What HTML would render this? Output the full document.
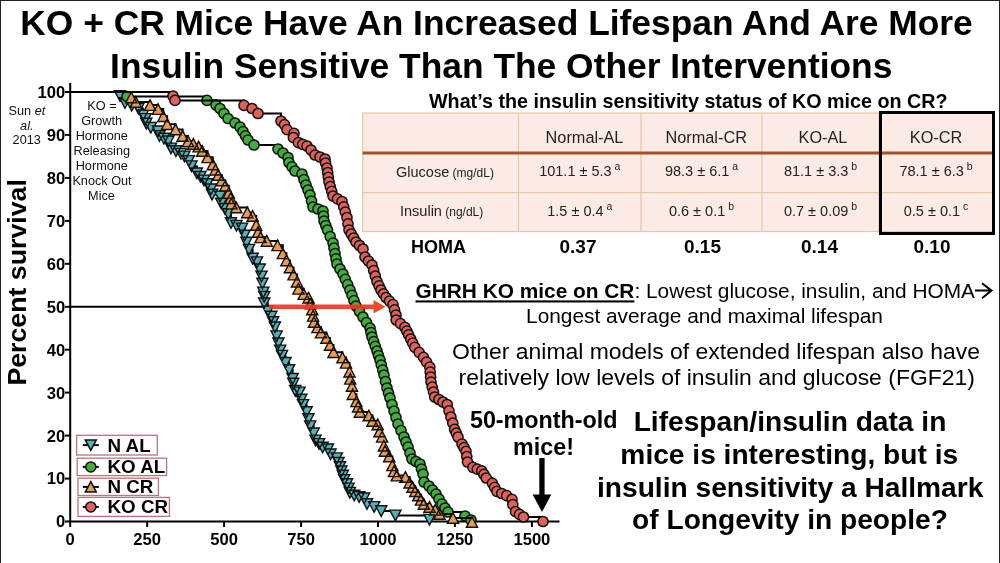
<!DOCTYPE html>
<html><head><meta charset="utf-8"><title>KO + CR Mice</title>
<style>
html,body{margin:0;padding:0;background:#fff;}
body{width:1000px;height:563px;overflow:hidden;position:relative;}
.frame{position:absolute;left:0;top:0;width:998px;height:563px;border:1px solid #222;border-bottom:none;}
svg{position:absolute;left:0;top:0;}
</style></head><body>
<div class="frame"></div>
<svg width="1000" height="563" viewBox="0 0 1000 563">
<rect x="362.7" y="113" width="630.3" height="118.5" fill="#fcebe5" stroke="#e6c7a2" stroke-width="1.2"/>
<path d="M518.5,113V231.5" stroke="#e6c7a2" stroke-width="1.2"/>
<path d="M641,113V231.5" stroke="#e6c7a2" stroke-width="1.2"/>
<path d="M762,113V231.5" stroke="#e6c7a2" stroke-width="1.2"/>
<path d="M879,113V231.5" stroke="#e6c7a2" stroke-width="1.2"/>
<path d="M362.7,192.6H993" stroke="#e6c7a2" stroke-width="1.2"/>
<path d="M362.7,153H993" stroke="#a0522d" stroke-width="3"/>
<rect x="880.5" y="112.5" width="113" height="121" fill="none" stroke="#000" stroke-width="3"/>
<g font-family='"Liberation Sans", Arial, sans-serif' fill="#222"><text x="584.5" y="142.6" text-anchor="middle" font-size="16.3">Normal-AL</text><text x="706.2" y="142.6" text-anchor="middle" font-size="16.3">Normal-CR</text><text x="823.0" y="142.6" text-anchor="middle" font-size="16.3">KO-AL</text><text x="936.0" y="142.6" text-anchor="middle" font-size="16.3">KO-CR</text><text x="579.8" y="176.3" text-anchor="middle" font-size="14.5">101.1 ± 5.3<tspan font-size="10.5" dy="-6"> a</tspan></text><text x="701.5" y="176.3" text-anchor="middle" font-size="14.5">98.3 ± 6.1<tspan font-size="10.5" dy="-6"> a</tspan></text><text x="820.5" y="176.3" text-anchor="middle" font-size="14.5">81.1 ± 3.3<tspan font-size="10.5" dy="-6"> b</tspan></text><text x="936.0" y="176.3" text-anchor="middle" font-size="14.5">78.1 ± 6.3<tspan font-size="10.5" dy="-6"> b</tspan></text><text x="579.8" y="215.7" text-anchor="middle" font-size="14.5">1.5 ± 0.4<tspan font-size="10.5" dy="-6"> a</tspan></text><text x="701.5" y="215.7" text-anchor="middle" font-size="14.5">0.6 ± 0.1<tspan font-size="10.5" dy="-6"> b</tspan></text><text x="820.5" y="215.7" text-anchor="middle" font-size="14.5">0.7 ± 0.09<tspan font-size="10.5" dy="-6"> b</tspan></text><text x="936.0" y="215.7" text-anchor="middle" font-size="14.5">0.5 ± 0.1<tspan font-size="10.5" dy="-6"> c</tspan></text><text x="396" y="176.5" font-size="14.5">Glucose<tspan font-size="12"> (mg/dL)</tspan></text><text x="400" y="215.7" font-size="14.5">Insulin<tspan font-size="12"> (ng/dL)</tspan></text></g>
<g font-family='"Liberation Sans", Arial, sans-serif' font-weight="bold" font-size="18" fill="#000"><text x="438.4" y="253" text-anchor="middle" font-size="18">HOMA</text><text x="578" y="253" text-anchor="middle" font-size="19">0.37</text><text x="702.5" y="253" text-anchor="middle" font-size="19">0.15</text><text x="819.5" y="253" text-anchor="middle" font-size="19">0.14</text><text x="932" y="253" text-anchor="middle" font-size="19">0.10</text></g>
<g stroke="#000" stroke-width="2" fill="none">
<path d="M70.2,83V522.0"/>
<path d="M69.2,521.5H559.5"/>
<path d="M65,521.5H70.2"/>
<path d="M65,478.6H70.2"/>
<path d="M65,435.6H70.2"/>
<path d="M65,392.6H70.2"/>
<path d="M65,349.7H70.2"/>
<path d="M65,306.8H70.2"/>
<path d="M65,263.8H70.2"/>
<path d="M65,220.9H70.2"/>
<path d="M65,177.9H70.2"/>
<path d="M65,134.9H70.2"/>
<path d="M65,92.0H70.2"/>
<path d="M70.2,521.5V527"/>
<path d="M147.2,521.5V527"/>
<path d="M224.1,521.5V527"/>
<path d="M301.1,521.5V527"/>
<path d="M378.0,521.5V527"/>
<path d="M454.9,521.5V527"/>
<path d="M531.9,521.5V527"/>
</g>
<g font-family='"Liberation Sans", Arial, sans-serif' font-weight="bold" font-size="16.6" fill="#000"><text x="65.3" y="527.4" text-anchor="end">0</text><text x="65.3" y="484.4" text-anchor="end">10</text><text x="65.3" y="441.5" text-anchor="end">20</text><text x="65.3" y="398.5" text-anchor="end">30</text><text x="65.3" y="355.6" text-anchor="end">40</text><text x="65.3" y="312.6" text-anchor="end">50</text><text x="65.3" y="269.7" text-anchor="end">60</text><text x="65.3" y="226.8" text-anchor="end">70</text><text x="65.3" y="183.8" text-anchor="end">80</text><text x="65.3" y="140.8" text-anchor="end">90</text><text x="65.3" y="97.9" text-anchor="end">100</text><text x="70.2" y="544.8" text-anchor="middle">0</text><text x="147.2" y="544.8" text-anchor="middle">250</text><text x="224.1" y="544.8" text-anchor="middle">500</text><text x="301.1" y="544.8" text-anchor="middle">750</text><text x="378.0" y="544.8" text-anchor="middle">1000</text><text x="454.9" y="544.8" text-anchor="middle">1250</text><text x="531.9" y="544.8" text-anchor="middle">1500</text></g>
<path d="M70.2,306.8H270" stroke="#000" stroke-width="2"/>
<path d="M70.2,92.0H120.0V96.0H125.0V103.0H131.7V105.8H138.4V108.6H142.9V115.3H145.5V118.9H146.3V123.6H150.8V127.7H158.0V131.3H159.5V136.0H163.9V138.7H168.4V141.3H171.0V148.4H175.9V151.1H180.9V153.7H184.4V156.4H188.8V160.9H191.5V166.2H196.8V173.3H200.4V176.8H204.0V180.4H207.5V184.0H211.0V189.3H212.0V194.6H220.0V196.4H221.2V203.5H224.8V208.8H228.3V214.1H231.0V223.0H236.5V225.7H242.0V228.4H244.6V235.5H246.4V242.6H249.0V249.7H252.6V258.6H257.0V262.2H259.7V269.3H261.5V276.4H262.4V283.5H263.3V292.4H264.2V296.8H264.2V303.3H267.8V311.3H271.3V316.6H273.1V322.0H274.9V327.3H276.6V336.2H278.4V343.3H280.2V350.4H282.0V355.7H285.5V362.8H289.1V370.0H292.6V378.8H293.3V383.6H295.2V390.7H299.5V392.4H301.3V399.5H303.1V404.9H306.6V412.0H308.4V419.1H310.2V426.2H313.7V433.3H315.5V440.4H319.1V443.9H322.6V447.5H328.0V449.3H330.5V454.3H336.8V458.2H338.5V462.8H340.0V467.0H341.4V471.3H342.8V475.6H344.2V479.9H347.0V484.1H348.5V488.4H349.9V492.7H354.2V495.5H359.1V496.9H364.1V498.3H367.0V504.0H374.1V506.9H381.2V511.1H395.4V515.4H429.5V519.7" fill="none" stroke="#000" stroke-width="2"/><path d="M114.4,90.7L125.6,90.7L120.0,101.3ZM119.4,97.7L130.6,97.7L125.0,108.3ZM126.1,100.5L137.3,100.5L131.7,111.1ZM132.8,103.3L144.0,103.3L138.4,113.9ZM137.3,110.0L148.5,110.0L142.9,120.6ZM139.9,113.6L151.1,113.6L145.5,124.2ZM140.7,118.3L151.9,118.3L146.3,128.9ZM145.2,122.4L156.4,122.4L150.8,133.0ZM152.4,126.0L163.6,126.0L158.0,136.6ZM153.9,130.7L165.1,130.7L159.5,141.3ZM158.3,133.3L169.5,133.3L163.9,144.0ZM162.8,136.0L174.0,136.0L168.4,146.6ZM165.4,143.1L176.6,143.1L171.0,153.7ZM170.3,145.7L181.5,145.7L175.9,156.4ZM175.3,148.4L186.5,148.4L180.9,159.0ZM178.8,151.1L190.0,151.1L184.4,161.7ZM183.2,155.6L194.4,155.6L188.8,166.2ZM185.9,160.9L197.1,160.9L191.5,171.5ZM191.2,168.0L202.4,168.0L196.8,178.6ZM194.8,171.5L206.0,171.5L200.4,182.1ZM198.4,175.1L209.6,175.1L204.0,185.7ZM201.9,178.7L213.1,178.7L207.5,189.3ZM205.4,184.0L216.6,184.0L211.0,194.6ZM206.4,189.3L217.6,189.3L212.0,199.9ZM214.4,191.1L225.6,191.1L220.0,201.7ZM215.6,198.2L226.8,198.2L221.2,208.8ZM219.2,203.5L230.4,203.5L224.8,214.1ZM222.7,208.8L233.9,208.8L228.3,219.4ZM225.4,217.7L236.6,217.7L231.0,228.3ZM230.9,220.4L242.1,220.4L236.5,231.0ZM236.4,223.1L247.6,223.1L242.0,233.7ZM239.0,230.2L250.2,230.2L244.6,240.8ZM240.8,237.3L252.0,237.3L246.4,247.9ZM243.4,244.4L254.6,244.4L249.0,255.0ZM247.0,253.3L258.2,253.3L252.6,263.9ZM251.4,256.9L262.6,256.9L257.0,267.5ZM254.1,264.0L265.3,264.0L259.7,274.6ZM255.9,271.1L267.1,271.1L261.5,281.7ZM256.8,278.2L268.0,278.2L262.4,288.8ZM257.7,287.1L268.9,287.1L263.3,297.7ZM258.6,291.5L269.8,291.5L264.2,302.1ZM258.6,298.0L269.8,298.0L264.2,308.6ZM262.2,306.0L273.4,306.0L267.8,316.6ZM265.7,311.3L276.9,311.3L271.3,321.9ZM267.5,316.7L278.7,316.7L273.1,327.3ZM269.3,322.0L280.5,322.0L274.9,332.6ZM271.0,330.9L282.2,330.9L276.6,341.5ZM272.8,338.0L284.0,338.0L278.4,348.6ZM274.6,345.1L285.8,345.1L280.2,355.7ZM276.4,350.4L287.6,350.4L282.0,361.0ZM279.9,357.5L291.1,357.5L285.5,368.1ZM283.5,364.7L294.7,364.7L289.1,375.3ZM287.0,373.5L298.2,373.5L292.6,384.1ZM287.7,378.3L298.9,378.3L293.3,388.9ZM289.6,385.4L300.8,385.4L295.2,396.0ZM293.9,387.1L305.1,387.1L299.5,397.7ZM295.7,394.2L306.9,394.2L301.3,404.8ZM297.5,399.6L308.7,399.6L303.1,410.2ZM301.0,406.7L312.2,406.7L306.6,417.3ZM302.8,413.8L314.0,413.8L308.4,424.4ZM304.6,420.9L315.8,420.9L310.2,431.5ZM308.1,428.0L319.3,428.0L313.7,438.6ZM309.9,435.1L321.1,435.1L315.5,445.7ZM313.5,438.6L324.7,438.6L319.1,449.2ZM317.0,442.2L328.2,442.2L322.6,452.8ZM322.4,444.0L333.6,444.0L328.0,454.6ZM324.9,449.0L336.1,449.0L330.5,459.6ZM331.2,452.9L342.4,452.9L336.8,463.5ZM332.9,457.5L344.1,457.5L338.5,468.1ZM334.4,461.7L345.6,461.7L340.0,472.3ZM335.8,466.0L347.0,466.0L341.4,476.6ZM337.2,470.3L348.4,470.3L342.8,480.9ZM338.6,474.6L349.8,474.6L344.2,485.2ZM341.4,478.8L352.6,478.8L347.0,489.4ZM342.9,483.1L354.1,483.1L348.5,493.7ZM344.3,487.4L355.5,487.4L349.9,498.0ZM348.6,490.2L359.8,490.2L354.2,500.8ZM353.5,491.6L364.8,491.6L359.1,502.2ZM358.5,493.0L369.7,493.0L364.1,503.6ZM361.4,498.7L372.6,498.7L367.0,509.3ZM368.5,501.6L379.7,501.6L374.1,512.2ZM375.6,505.8L386.8,505.8L381.2,516.4ZM389.8,510.1L401.0,510.1L395.4,520.7ZM423.9,514.4L435.1,514.4L429.5,525.0Z" fill="#4fb4b9" stroke="#111" stroke-width="1.4" stroke-linejoin="miter"/>
<path d="M70.2,92.0H127.0V96.5H207.0V100.4H216.0V105.0H220.0V108.5H224.0V113.5H228.0V118.5H235.0V123.0H240.0V127.0H243.0V131.5H245.5V135.8H248.0V140.0H254.0V145.0H278.0V149.0H283.0V153.0H288.0V157.5H289.0V162.5H292.0V166.8H295.0V171.0H302.0V174.0H304.0V179.5H306.0V185.0H308.0V190.0H310.0V195.0H311.5V201.0H313.0V207.0H318.0V209.0H323.0V211.0H323.5V216.0H324.0V221.0H325.8V225.5H327.5V230.0H330.2V236.5H333.0V243.0H334.0V248.2H335.0V253.5H336.0V258.8H337.0V264.0H340.0V269.0H343.0V274.0H345.3V279.3H347.7V284.7H350.0V290.0H352.0V295.3H354.0V300.7H356.0V306.0H359.5V311.5H363.0V317.0H366.5V322.5H370.0V328.0H371.0V332.5H372.0V337.0H373.7V341.7H375.3V346.3H377.0V351.0H378.5V355.5H380.0V360.0H381.3V365.0H382.7V370.0H384.0V375.0H385.5V381.5H387.0V388.0H388.5V393.0H390.0V398.0H392.0V404.5H394.0V411.0H396.0V417.5H398.0V424.0H401.0V430.5H404.0V437.0H406.0V442.0H408.0V447.0H410.0V453.0H412.0V459.0H416.0V461.5H420.0V464.0H421.5V469.0H423.0V474.0H424.0V482.0H429.0V486.0H432.5V490.0H436.0V494.0H439.0V499.0H442.0V504.0H445.0V508.0H448.0V512.0H465.0V516.0H471.0V520.0" fill="none" stroke="#000" stroke-width="2"/><g fill="#3fae3a" stroke="#111" stroke-width="1.5"><circle cx="127.0" cy="96.5" r="5.1"/><circle cx="207.0" cy="100.4" r="5.1"/><circle cx="216.0" cy="105.0" r="5.1"/><circle cx="220.0" cy="108.5" r="5.1"/><circle cx="224.0" cy="113.5" r="5.1"/><circle cx="228.0" cy="118.5" r="5.1"/><circle cx="235.0" cy="123.0" r="5.1"/><circle cx="240.0" cy="127.0" r="5.1"/><circle cx="243.0" cy="131.5" r="5.1"/><circle cx="245.5" cy="135.8" r="5.1"/><circle cx="248.0" cy="140.0" r="5.1"/><circle cx="254.0" cy="145.0" r="5.1"/><circle cx="278.0" cy="149.0" r="5.1"/><circle cx="283.0" cy="153.0" r="5.1"/><circle cx="288.0" cy="157.5" r="5.1"/><circle cx="289.0" cy="162.5" r="5.1"/><circle cx="292.0" cy="166.8" r="5.1"/><circle cx="295.0" cy="171.0" r="5.1"/><circle cx="302.0" cy="174.0" r="5.1"/><circle cx="304.0" cy="179.5" r="5.1"/><circle cx="306.0" cy="185.0" r="5.1"/><circle cx="308.0" cy="190.0" r="5.1"/><circle cx="310.0" cy="195.0" r="5.1"/><circle cx="311.5" cy="201.0" r="5.1"/><circle cx="313.0" cy="207.0" r="5.1"/><circle cx="318.0" cy="209.0" r="5.1"/><circle cx="323.0" cy="211.0" r="5.1"/><circle cx="323.5" cy="216.0" r="5.1"/><circle cx="324.0" cy="221.0" r="5.1"/><circle cx="325.8" cy="225.5" r="5.1"/><circle cx="327.5" cy="230.0" r="5.1"/><circle cx="330.2" cy="236.5" r="5.1"/><circle cx="333.0" cy="243.0" r="5.1"/><circle cx="334.0" cy="248.2" r="5.1"/><circle cx="335.0" cy="253.5" r="5.1"/><circle cx="336.0" cy="258.8" r="5.1"/><circle cx="337.0" cy="264.0" r="5.1"/><circle cx="340.0" cy="269.0" r="5.1"/><circle cx="343.0" cy="274.0" r="5.1"/><circle cx="345.3" cy="279.3" r="5.1"/><circle cx="347.7" cy="284.7" r="5.1"/><circle cx="350.0" cy="290.0" r="5.1"/><circle cx="352.0" cy="295.3" r="5.1"/><circle cx="354.0" cy="300.7" r="5.1"/><circle cx="356.0" cy="306.0" r="5.1"/><circle cx="359.5" cy="311.5" r="5.1"/><circle cx="363.0" cy="317.0" r="5.1"/><circle cx="366.5" cy="322.5" r="5.1"/><circle cx="370.0" cy="328.0" r="5.1"/><circle cx="371.0" cy="332.5" r="5.1"/><circle cx="372.0" cy="337.0" r="5.1"/><circle cx="373.7" cy="341.7" r="5.1"/><circle cx="375.3" cy="346.3" r="5.1"/><circle cx="377.0" cy="351.0" r="5.1"/><circle cx="378.5" cy="355.5" r="5.1"/><circle cx="380.0" cy="360.0" r="5.1"/><circle cx="381.3" cy="365.0" r="5.1"/><circle cx="382.7" cy="370.0" r="5.1"/><circle cx="384.0" cy="375.0" r="5.1"/><circle cx="385.5" cy="381.5" r="5.1"/><circle cx="387.0" cy="388.0" r="5.1"/><circle cx="388.5" cy="393.0" r="5.1"/><circle cx="390.0" cy="398.0" r="5.1"/><circle cx="392.0" cy="404.5" r="5.1"/><circle cx="394.0" cy="411.0" r="5.1"/><circle cx="396.0" cy="417.5" r="5.1"/><circle cx="398.0" cy="424.0" r="5.1"/><circle cx="401.0" cy="430.5" r="5.1"/><circle cx="404.0" cy="437.0" r="5.1"/><circle cx="406.0" cy="442.0" r="5.1"/><circle cx="408.0" cy="447.0" r="5.1"/><circle cx="410.0" cy="453.0" r="5.1"/><circle cx="412.0" cy="459.0" r="5.1"/><circle cx="416.0" cy="461.5" r="5.1"/><circle cx="420.0" cy="464.0" r="5.1"/><circle cx="421.5" cy="469.0" r="5.1"/><circle cx="423.0" cy="474.0" r="5.1"/><circle cx="424.0" cy="482.0" r="5.1"/><circle cx="429.0" cy="486.0" r="5.1"/><circle cx="432.5" cy="490.0" r="5.1"/><circle cx="436.0" cy="494.0" r="5.1"/><circle cx="439.0" cy="499.0" r="5.1"/><circle cx="442.0" cy="504.0" r="5.1"/><circle cx="445.0" cy="508.0" r="5.1"/><circle cx="448.0" cy="512.0" r="5.1"/><circle cx="465.0" cy="516.0" r="5.1"/><circle cx="471.0" cy="520.0" r="5.1"/></g>
<path d="M70.2,92.0H131.3V97.5H135.8V102.0H150.0V105.1H158.0V109.1H163.3V116.2H167.1V124.2H175.6V129.5H182.6V136.0H188.0V141.3H193.3V143.9H198.6V146.6H202.2V151.0H207.5V157.3H212.8V164.4H215.5V169.7H218.2V175.0H221.7V180.4H225.3V185.7H228.8V192.8H230.6V198.2H231.3V203.6H236.3V207.5H247.3V212.4H252.6V216.0H256.2V224.9H258.0V232.0H260.6V237.3H266.8V240.9H277.5V245.3H282.8V253.3H286.4V260.4H289.9V267.5H293.5V274.6H297.0V281.7H298.4V288.8H303.7V294.1H308.6V297.7H310.4V303.6H312.2V309.5H313.1V315.8H314.0V322.0H317.5V327.3H321.0V332.6H326.4V338.0H330.0V345.0H333.5V352.2H342.4V357.5H346.0V362.8H349.5V371.7H350.2V378.8H352.0V385.9H352.8V394.2H356.4V401.3H358.1V406.6H359.9V412.0H368.8V415.5H372.4V420.9H377.7V424.4H379.5V431.5H382.1V436.8H383.9V445.7H384.9V451.0H389.2V456.4H392.4V465.3H394.0V471.3H396.8V475.6H405.4V477.0H409.6V482.7H412.5V487.0H415.3V491.2H418.2V495.5H421.0V499.8H423.8V504.0H429.5V506.9H435.2V509.7H439.5V514.0H453.0V518.0H472.0V522.0" fill="none" stroke="#000" stroke-width="2"/><path d="M125.7,102.8L136.9,102.8L131.3,92.2ZM130.2,107.3L141.4,107.3L135.8,96.7ZM144.4,110.4L155.6,110.4L150.0,99.8ZM152.4,114.4L163.6,114.4L158.0,103.8ZM157.7,121.5L168.9,121.5L163.3,110.9ZM161.5,129.5L172.7,129.5L167.1,118.9ZM170.0,134.8L181.2,134.8L175.6,124.2ZM177.0,141.3L188.2,141.3L182.6,130.7ZM182.4,146.6L193.6,146.6L188.0,136.0ZM187.7,149.3L198.9,149.3L193.3,138.6ZM193.0,151.9L204.2,151.9L198.6,141.3ZM196.6,156.3L207.8,156.3L202.2,145.7ZM201.9,162.6L213.1,162.6L207.5,152.0ZM207.2,169.7L218.4,169.7L212.8,159.1ZM209.9,175.0L221.1,175.0L215.5,164.4ZM212.6,180.3L223.8,180.3L218.2,169.7ZM216.1,185.7L227.3,185.7L221.7,175.1ZM219.7,191.0L230.9,191.0L225.3,180.4ZM223.2,198.1L234.4,198.1L228.8,187.5ZM225.0,203.5L236.2,203.5L230.6,192.9ZM225.7,208.9L236.9,208.9L231.3,198.3ZM230.7,212.8L241.9,212.8L236.3,202.2ZM241.7,217.7L252.9,217.7L247.3,207.1ZM247.0,221.3L258.2,221.3L252.6,210.7ZM250.6,230.2L261.8,230.2L256.2,219.6ZM252.4,237.3L263.6,237.3L258.0,226.7ZM255.0,242.6L266.2,242.6L260.6,232.0ZM261.2,246.2L272.4,246.2L266.8,235.6ZM271.9,250.6L283.1,250.6L277.5,240.0ZM277.2,258.6L288.4,258.6L282.8,248.0ZM280.8,265.7L292.0,265.7L286.4,255.1ZM284.3,272.8L295.5,272.8L289.9,262.2ZM287.9,279.9L299.1,279.9L293.5,269.3ZM291.4,287.0L302.6,287.0L297.0,276.4ZM292.8,294.1L304.0,294.1L298.4,283.5ZM298.1,299.4L309.3,299.4L303.7,288.8ZM303.0,303.0L314.2,303.0L308.6,292.4ZM304.8,308.9L316.0,308.9L310.4,298.3ZM306.6,314.8L317.8,314.8L312.2,304.2ZM307.5,321.1L318.7,321.1L313.1,310.4ZM308.4,327.3L319.6,327.3L314.0,316.7ZM311.9,332.6L323.1,332.6L317.5,322.0ZM315.4,337.9L326.6,337.9L321.0,327.3ZM320.8,343.3L332.0,343.3L326.4,332.7ZM324.4,350.3L335.6,350.3L330.0,339.7ZM327.9,357.5L339.1,357.5L333.5,346.9ZM336.8,362.8L348.0,362.8L342.4,352.2ZM340.4,368.1L351.6,368.1L346.0,357.5ZM343.9,377.0L355.1,377.0L349.5,366.4ZM344.6,384.1L355.8,384.1L350.2,373.5ZM346.4,391.2L357.6,391.2L352.0,380.6ZM347.2,399.5L358.4,399.5L352.8,388.9ZM350.8,406.6L362.0,406.6L356.4,396.0ZM352.5,412.0L363.8,412.0L358.1,401.3ZM354.3,417.3L365.5,417.3L359.9,406.7ZM363.2,420.8L374.4,420.8L368.8,410.2ZM366.8,426.2L378.0,426.2L372.4,415.6ZM372.1,429.7L383.3,429.7L377.7,419.1ZM373.9,436.8L385.1,436.8L379.5,426.2ZM376.5,442.1L387.7,442.1L382.1,431.5ZM378.3,451.0L389.5,451.0L383.9,440.4ZM379.3,456.3L390.5,456.3L384.9,445.7ZM383.6,461.7L394.8,461.7L389.2,451.1ZM386.8,470.6L398.0,470.6L392.4,460.0ZM388.4,476.6L399.6,476.6L394.0,466.0ZM391.2,480.9L402.4,480.9L396.8,470.3ZM399.8,482.3L411.0,482.3L405.4,471.7ZM404.0,488.0L415.2,488.0L409.6,477.4ZM406.9,492.3L418.1,492.3L412.5,481.7ZM409.7,496.5L420.9,496.5L415.3,485.9ZM412.6,500.8L423.8,500.8L418.2,490.2ZM415.4,505.1L426.6,505.1L421.0,494.5ZM418.2,509.3L429.4,509.3L423.8,498.7ZM423.9,512.2L435.1,512.2L429.5,501.6ZM429.6,515.0L440.8,515.0L435.2,504.4ZM433.9,519.3L445.1,519.3L439.5,508.7ZM447.4,523.3L458.6,523.3L453.0,512.7ZM466.4,527.3L477.6,527.3L472.0,516.7Z" fill="#ee9a4c" stroke="#111" stroke-width="1.4" stroke-linejoin="miter"/>
<path d="M70.2,92.0H173.0V96.0H175.0V100.4H244.0V105.4H252.0V108.5H258.0V113.5H281.0V121.0H284.5V124.7H287.0V129.7H294.0V133.4H293.4V137.6H298.4V142.6H302.7V144.3H307.0V146.0H311.0V150.0H315.0V155.0H320.0V157.0H325.0V159.0H325.5V163.0H327.0V168.0H327.7V172.7H328.3V177.3H329.0V182.0H330.3V186.7H331.7V191.3H333.0V196.0H337.5V198.8H342.0V201.5H343.7V206.8H345.3V212.2H347.0V217.5H348.0V223.8H349.0V230.0H351.3V234.0H353.7V238.0H356.0V242.0H359.5V245.5H363.0V249.0H365.0V257.0H368.5V261.0H372.0V265.0H373.7V270.5H375.3V276.0H377.0V281.5H379.0V285.8H381.0V290.0H383.5V293.8H386.0V297.5H389.5V301.1H393.0V304.6H394.5V309.8H396.0V315.0H396.2V320.0H400.5V323.7H404.9V327.4H406.8V331.1H408.6V334.9H410.7V339.0H412.7V343.2H414.8V347.3H419.1V352.3H423.5V357.3H426.6V362.2H429.8V367.2H430.2V372.2H430.6V377.1H431.0V382.1H432.2V387.1H433.5V392.0H434.7V397.0H438.9V399.5H443.0V402.0H447.2V404.5H449.0V410.8H450.9V417.0H452.8V423.2H454.6V429.4H456.3V433.2H458.0V437.0H462.0V444.0H464.0V447.6H466.0V451.3H466.8V456.6H467.5V462.0H472.9V467.3H477.3V469.1H481.7V470.9H483.9V474.4H486.2V478.0H492.4V483.3H494.6V487.3H496.8V491.3H501.7V493.5H506.6V495.7H512.0V499.3H512.8V504.6H515.5V511.7H519.5V514.4H523.5V517.0H543.0V521.5" fill="none" stroke="#000" stroke-width="2"/><g fill="#e0605a" stroke="#111" stroke-width="1.5"><circle cx="173.0" cy="96.0" r="5.1"/><circle cx="175.0" cy="100.4" r="5.1"/><circle cx="244.0" cy="105.4" r="5.1"/><circle cx="252.0" cy="108.5" r="5.1"/><circle cx="258.0" cy="113.5" r="5.1"/><circle cx="281.0" cy="121.0" r="5.1"/><circle cx="284.5" cy="124.7" r="5.1"/><circle cx="287.0" cy="129.7" r="5.1"/><circle cx="294.0" cy="133.4" r="5.1"/><circle cx="293.4" cy="137.6" r="5.1"/><circle cx="298.4" cy="142.6" r="5.1"/><circle cx="302.7" cy="144.3" r="5.1"/><circle cx="307.0" cy="146.0" r="5.1"/><circle cx="311.0" cy="150.0" r="5.1"/><circle cx="315.0" cy="155.0" r="5.1"/><circle cx="320.0" cy="157.0" r="5.1"/><circle cx="325.0" cy="159.0" r="5.1"/><circle cx="325.5" cy="163.0" r="5.1"/><circle cx="327.0" cy="168.0" r="5.1"/><circle cx="327.7" cy="172.7" r="5.1"/><circle cx="328.3" cy="177.3" r="5.1"/><circle cx="329.0" cy="182.0" r="5.1"/><circle cx="330.3" cy="186.7" r="5.1"/><circle cx="331.7" cy="191.3" r="5.1"/><circle cx="333.0" cy="196.0" r="5.1"/><circle cx="337.5" cy="198.8" r="5.1"/><circle cx="342.0" cy="201.5" r="5.1"/><circle cx="343.7" cy="206.8" r="5.1"/><circle cx="345.3" cy="212.2" r="5.1"/><circle cx="347.0" cy="217.5" r="5.1"/><circle cx="348.0" cy="223.8" r="5.1"/><circle cx="349.0" cy="230.0" r="5.1"/><circle cx="351.3" cy="234.0" r="5.1"/><circle cx="353.7" cy="238.0" r="5.1"/><circle cx="356.0" cy="242.0" r="5.1"/><circle cx="359.5" cy="245.5" r="5.1"/><circle cx="363.0" cy="249.0" r="5.1"/><circle cx="365.0" cy="257.0" r="5.1"/><circle cx="368.5" cy="261.0" r="5.1"/><circle cx="372.0" cy="265.0" r="5.1"/><circle cx="373.7" cy="270.5" r="5.1"/><circle cx="375.3" cy="276.0" r="5.1"/><circle cx="377.0" cy="281.5" r="5.1"/><circle cx="379.0" cy="285.8" r="5.1"/><circle cx="381.0" cy="290.0" r="5.1"/><circle cx="383.5" cy="293.8" r="5.1"/><circle cx="386.0" cy="297.5" r="5.1"/><circle cx="389.5" cy="301.1" r="5.1"/><circle cx="393.0" cy="304.6" r="5.1"/><circle cx="394.5" cy="309.8" r="5.1"/><circle cx="396.0" cy="315.0" r="5.1"/><circle cx="396.2" cy="320.0" r="5.1"/><circle cx="400.5" cy="323.7" r="5.1"/><circle cx="404.9" cy="327.4" r="5.1"/><circle cx="406.8" cy="331.1" r="5.1"/><circle cx="408.6" cy="334.9" r="5.1"/><circle cx="410.7" cy="339.0" r="5.1"/><circle cx="412.7" cy="343.2" r="5.1"/><circle cx="414.8" cy="347.3" r="5.1"/><circle cx="419.1" cy="352.3" r="5.1"/><circle cx="423.5" cy="357.3" r="5.1"/><circle cx="426.6" cy="362.2" r="5.1"/><circle cx="429.8" cy="367.2" r="5.1"/><circle cx="430.2" cy="372.2" r="5.1"/><circle cx="430.6" cy="377.1" r="5.1"/><circle cx="431.0" cy="382.1" r="5.1"/><circle cx="432.2" cy="387.1" r="5.1"/><circle cx="433.5" cy="392.0" r="5.1"/><circle cx="434.7" cy="397.0" r="5.1"/><circle cx="438.9" cy="399.5" r="5.1"/><circle cx="443.0" cy="402.0" r="5.1"/><circle cx="447.2" cy="404.5" r="5.1"/><circle cx="449.0" cy="410.8" r="5.1"/><circle cx="450.9" cy="417.0" r="5.1"/><circle cx="452.8" cy="423.2" r="5.1"/><circle cx="454.6" cy="429.4" r="5.1"/><circle cx="456.3" cy="433.2" r="5.1"/><circle cx="458.0" cy="437.0" r="5.1"/><circle cx="462.0" cy="444.0" r="5.1"/><circle cx="464.0" cy="447.6" r="5.1"/><circle cx="466.0" cy="451.3" r="5.1"/><circle cx="466.8" cy="456.6" r="5.1"/><circle cx="467.5" cy="462.0" r="5.1"/><circle cx="472.9" cy="467.3" r="5.1"/><circle cx="477.3" cy="469.1" r="5.1"/><circle cx="481.7" cy="470.9" r="5.1"/><circle cx="483.9" cy="474.4" r="5.1"/><circle cx="486.2" cy="478.0" r="5.1"/><circle cx="492.4" cy="483.3" r="5.1"/><circle cx="494.6" cy="487.3" r="5.1"/><circle cx="496.8" cy="491.3" r="5.1"/><circle cx="501.7" cy="493.5" r="5.1"/><circle cx="506.6" cy="495.7" r="5.1"/><circle cx="512.0" cy="499.3" r="5.1"/><circle cx="512.8" cy="504.6" r="5.1"/><circle cx="515.5" cy="511.7" r="5.1"/><circle cx="519.5" cy="514.4" r="5.1"/><circle cx="523.5" cy="517.0" r="5.1"/><circle cx="543.0" cy="521.5" r="5.1"/></g>
<path d="M269,304.4H373.5V300.1L385.5,306.8L373.5,313.4V309.1H269Z" fill="#ea3a1e" fill-opacity="0.93"/>
<path d="M539.3,458H544.6V494.6H551.3L542,512L532.6,494.6H539.3Z" fill="#000"/>
<rect x="76.6" y="435.3" width="80.7" height="19.7" fill="#fff" stroke="#b9757a" stroke-width="1.3"/>
<path d="M82.8,445.1H98.8" stroke="#000" stroke-width="2"/>
<path d="M85.3,439.9L96.3,439.9L90.8,450.4Z" fill="#4fb4b9" stroke="#111" stroke-width="1.5"/>
<text x="107.5" y="451.6" font-family='"Liberation Sans", Arial, sans-serif' font-weight="bold" font-size="18.8">N AL</text>
<rect x="77.2" y="458.2" width="89.4" height="17.4" fill="#fff" stroke="#b9757a" stroke-width="1.3"/>
<path d="M82.8,466.9H98.8" stroke="#000" stroke-width="2"/>
<circle cx="90.8" cy="466.9" r="5" fill="#3fae3a" stroke="#111" stroke-width="1.5"/>
<text x="107.5" y="473.4" font-family='"Liberation Sans", Arial, sans-serif' font-weight="bold" font-size="18.8">KO AL</text>
<rect x="78" y="478.2" width="80.4" height="17.3" fill="#fff" stroke="#b9757a" stroke-width="1.3"/>
<path d="M82.8,486.9H98.8" stroke="#000" stroke-width="2"/>
<path d="M85.3,492.1L96.3,492.1L90.8,481.6Z" fill="#ee9a4c" stroke="#111" stroke-width="1.5"/>
<text x="107.5" y="493.4" font-family='"Liberation Sans", Arial, sans-serif' font-weight="bold" font-size="18.8">N CR</text>
<rect x="78" y="497.4" width="91.4" height="19.0" fill="#fff" stroke="#b9757a" stroke-width="1.3"/>
<path d="M82.8,506.9H98.8" stroke="#000" stroke-width="2"/>
<circle cx="90.8" cy="506.9" r="5" fill="#e0605a" stroke="#111" stroke-width="1.5"/>
<text x="107.5" y="513.4" font-family='"Liberation Sans", Arial, sans-serif' font-weight="bold" font-size="18.8">KO CR</text>
<g font-family='"Liberation Sans", Arial, sans-serif' font-weight="bold" font-size="35.38" fill="#000" text-anchor="middle"><text x="496.5" y="35">KO + CR Mice Have An Increased Lifespan And Are More</text><text x="501.25" y="78">Insulin Sensitive Than The Other Interventions</text></g>
<text x="429" y="107.7" font-family='"Liberation Sans", Arial, sans-serif' font-weight="bold" font-size="19.73">What’s the insulin sensitivity status of KO mice on CR?</text>
<g font-family='"Liberation Sans", Arial, sans-serif' font-size="20.85" fill="#000"><text x="415.5" y="298.4"><tspan font-weight="bold" text-decoration="underline">GHRH KO mice on CR</tspan>: Lowest glucose, insulin, and HOMA</text><text x="704.5" y="323" text-anchor="middle">Longest average and maximal lifespan</text></g>
<path d="M975,290.6H991M982,283.2L991.5,290.6L982,298.2" fill="none" stroke="#000" stroke-width="2"/>
<g font-family='"Liberation Sans", Arial, sans-serif' font-size="22.95" fill="#000" text-anchor="middle"><text x="716" y="359">Other animal models of extended lifespan also have</text><text x="716.75" y="384.5">relatively low levels of insulin and glucose (FGF21)</text></g>
<g font-family='"Liberation Sans", Arial, sans-serif' font-weight="bold" font-size="28.15" fill="#000" text-anchor="middle"><text x="790" y="430.5">Lifespan/insulin data in</text><text x="789.25" y="463.5">mice is interesting, but is</text><text x="790.15" y="497">insulin sensitivity a Hallmark</text><text x="790" y="529.4">of Longevity in people?</text></g>
<g font-family='"Liberation Sans", Arial, sans-serif' font-weight="bold" font-size="23.3" fill="#000" text-anchor="middle"><text x="543.7" y="427.6">50-month-old</text><text x="543.5" y="455.2">mice!</text></g>
<text transform="translate(25.6,385.6) rotate(-90)" font-family='"Liberation Sans", Arial, sans-serif' font-weight="bold" font-size="25.5" textLength="206.5" lengthAdjust="spacingAndGlyphs">Percent survival</text>
<g font-family='"Liberation Sans", Arial, sans-serif' font-size="12.7" fill="#111" text-anchor="middle"><text x="26.9" y="114.5">Sun <tspan font-style="italic">et</tspan></text><text x="26.8" y="129.8" font-style="italic">al.</text><text x="26.7" y="144.2">2013</text><text x="102" y="110.2">KO =</text><text x="101.6" y="125.3">Growth</text><text x="101.8" y="140.3">Hormone</text><text x="101.8" y="155.3">Releasing</text><text x="101.8" y="170.2">Hormone</text><text x="102" y="184.8">Knock Out</text><text x="101.5" y="199.5">Mice</text></g>
</svg>
</body></html>
